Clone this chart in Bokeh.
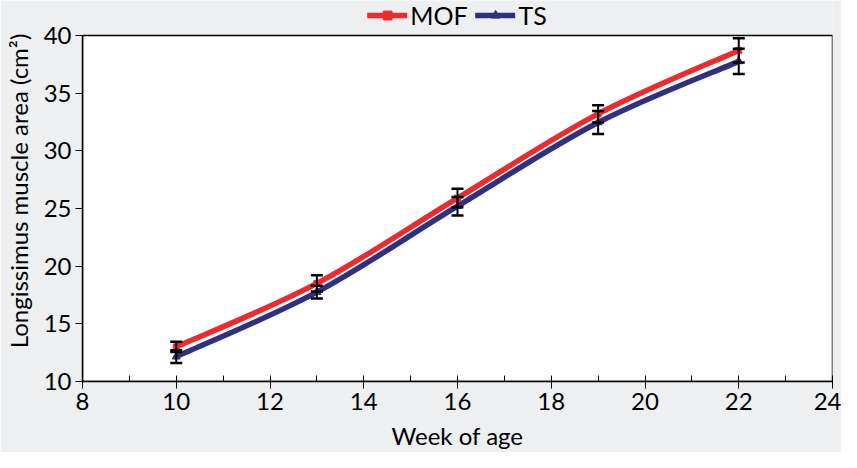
from bokeh.plotting import figure
from bokeh.models import (ColumnDataSource, Whisker, Legend, LegendItem,
                          SingleIntervalTicker, Range1d)
from bokeh.embed import file_html
from bokeh.resources import INLINE
import numpy as np

# ---- data ----
weeks = [10, 13, 16, 19, 22]
mof = [13.0, 18.5, 25.9, 33.2, 38.7]
mof_err = [0.45, 0.7, 0.8, 0.75, 1.05]
ts = [12.15, 17.75, 25.2, 32.45, 37.75]
ts_err = [0.55, 0.55, 0.8, 1.0, 1.1]
x_limits = [8, 24]
y_limits = [10, 40]

RED = "#EE2A2E"
NAVY = "#2E3080"
BG = "#EEEFF1"
FONT = "Lato"

# frame extends above the plot box to hold the legend (347 px for 30 units)
TOP_PAD_UNITS = 35 / (347 / 30)

p = figure(width=841, height=452, output_backend="svg", toolbar_location=None,
           x_range=Range1d(*x_limits),
           y_range=Range1d(y_limits[0], y_limits[1] + TOP_PAD_UNITS),
           min_border_left=76, min_border_right=9, min_border_top=0,
           min_border_bottom=70)
p.border_fill_color = BG
p.background_fill_color = BG
p.outline_line_color = None
p.xgrid.visible = False
p.ygrid.visible = False

# white plot box with black frame
p.quad(left=[x_limits[0]], right=[x_limits[1]], bottom=[y_limits[0]],
       top=[y_limits[1]], fill_color="white", line_color="black",
       line_width=1.5)


def bezier_segments(xs, ys):
    xs = np.asarray(xs, float)
    ys = np.asarray(ys, float)
    n = len(xs)
    xe = np.concatenate([[xs[0]], xs, [xs[-1]]])
    ye = np.concatenate([[ys[0]], ys, [ys[-1]]])
    d = dict(x0=[], y0=[], x1=[], y1=[], cx0=[], cy0=[], cx1=[], cy1=[])
    for i in range(n - 1):
        a, b = i + 1, i + 2
        d["x0"].append(xe[a]); d["y0"].append(ye[a])
        d["x1"].append(xe[b]); d["y1"].append(ye[b])
        d["cx0"].append(xe[a] + (xe[b] - xe[a - 1]) / 6)
        d["cy0"].append(ye[a] + (ye[b] - ye[a - 1]) / 6)
        d["cx1"].append(xe[b] - (xe[b + 1] - xe[a]) / 6)
        d["cy1"].append(ye[b] - (ye[b + 1] - ye[a]) / 6)
    return ColumnDataSource(d)


src = ColumnDataSource(dict(x=weeks, mof=mof, ts=ts,
                            mof_lo=[v - e for v, e in zip(mof, mof_err)],
                            mof_hi=[v + e for v, e in zip(mof, mof_err)],
                            ts_lo=[v - e for v, e in zip(ts, ts_err)],
                            ts_hi=[v + e for v, e in zip(ts, ts_err)]))

ts_line = p.bezier(x0="x0", y0="y0", x1="x1", y1="y1", cx0="cx0", cy0="cy0",
                   cx1="cx1", cy1="cy1", source=bezier_segments(weeks, ts),
                   line_color=NAVY, line_width=5.5, line_cap="round")
mof_line = p.bezier(x0="x0", y0="y0", x1="x1", y1="y1", cx0="cx0", cy0="cy0",
                    cx1="cx1", cy1="cy1", source=bezier_segments(weeks, mof),
                    line_color=RED, line_width=5.5, line_cap="round")
ts_pts = p.scatter("x", "ts", source=src, marker="triangle", size=8,
                   fill_color=NAVY, line_color=NAVY)
mof_pts = p.scatter("x", "mof", source=src, marker="square", size=6,
                    fill_color=RED, line_color=RED)

for lo, hi in (("mof_lo", "mof_hi"), ("ts_lo", "ts_hi")):
    w = Whisker(base="x", lower=lo, upper=hi, source=src,
                line_color="black", line_width=2, level="annotation")
    w.upper_head.size = 12
    w.lower_head.size = 12
    w.upper_head.line_width = 2.5
    w.lower_head.line_width = 2.5
    w.upper_head.line_color = "black"
    w.lower_head.line_color = "black"
    p.add_layout(w)

# axes
p.xaxis.ticker = SingleIntervalTicker(interval=2, num_minor_ticks=2)
p.yaxis.ticker = SingleIntervalTicker(interval=5, num_minor_ticks=0)
p.yaxis.bounds = tuple(y_limits)
p.xaxis.axis_label = "Week of age"
p.yaxis.axis_label = "Longissimus muscle area (cm²)"
for ax in (p.xaxis[0], p.yaxis[0]):
    ax.axis_line_color = "black"
    ax.axis_line_width = 1.5
    ax.major_tick_line_color = "black"
    ax.minor_tick_line_color = "black"
    ax.major_label_text_font = FONT
    ax.major_label_text_font_size = "24px"
    ax.major_label_text_color = "black"
    ax.axis_label_text_font = FONT
    ax.axis_label_text_font_size = "24px"
    ax.axis_label_text_font_style = "normal"
    ax.axis_label_text_color = "black"
p.xaxis.major_tick_in = 5
p.xaxis.major_tick_out = 7
p.xaxis.minor_tick_in = 6
p.xaxis.minor_tick_out = 0
p.xaxis.major_label_standoff = 4
p.xaxis.axis_label_standoff = 8
p.yaxis.major_tick_in = 0
p.yaxis.major_tick_out = 7
p.yaxis.major_label_standoff = 4
p.yaxis.axis_label_standoff = 8

legend = Legend(items=[LegendItem(label="MOF", renderers=[mof_line, mof_pts]),
                       LegendItem(label="TS", renderers=[ts_line, ts_pts])],
                orientation="horizontal", location="top_center",
                label_text_font=FONT, label_text_font_size="25px",
                label_text_color="black",
                glyph_width=40, glyph_height=22, spacing=8,
                label_standoff=3, padding=0, margin=0,
                border_line_color=None, background_fill_alpha=0)
p.add_layout(legend)

html = file_html(p, INLINE)
html = html.replace("<body>", '<body style="background:%s">' % BG, 1)
open("out.html", "w").write(html)
